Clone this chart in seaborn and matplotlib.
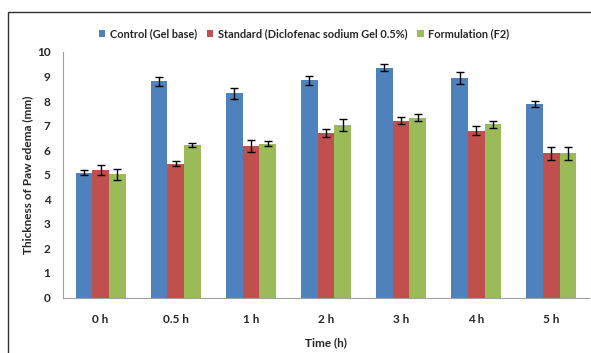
import matplotlib
matplotlib.use("Agg")
import matplotlib.pyplot as plt
import matplotlib.patches as mpatches
import seaborn as sns
import pandas as pd
import numpy as np

times = ["0 h", "0.5 h", "1 h", "2 h", "3 h", "4 h", "5 h"]
groups = ["Control (Gel base)", "Standard (Diclofenac sodium Gel 0.5%)", "Formulation (F2)"]
control = [5.09, 8.80, 8.31, 8.84, 9.36, 8.93, 7.87]
standard = [5.20, 5.45, 6.18, 6.70, 7.20, 6.80, 5.87]
formulation = [5.02, 6.21, 6.27, 7.03, 7.33, 7.05, 5.87]
control_err = [0.10, 0.20, 0.22, 0.20, 0.14, 0.24, 0.12]
standard_err = [0.20, 0.11, 0.24, 0.15, 0.15, 0.18, 0.26]
formulation_err = [0.22, 0.10, 0.10, 0.25, 0.15, 0.13, 0.25]
colors = ["#4F81BD", "#C0504D", "#9BBB59"]

values = [control, standard, formulation]
errors = [control_err, standard_err, formulation_err]
rows = []
for g, vals in zip(groups, values):
    for t, v in zip(times, vals):
        rows.append({"Time": t, "Group": g, "Value": v})
df = pd.DataFrame(rows)

sns.set_style("white")
plt.rcParams["font.family"] = ["Lato", "DejaVu Sans"]
plt.rcParams["font.weight"] = "bold"

fig = plt.figure(figsize=(5.91, 3.53), dpi=100)
W, H = 591, 353
ax = fig.add_axes([63 / W, (H - 297.5) / H, (589 - 63) / W, (297.5 - 52) / H])

sns.barplot(data=df, x="Time", y="Value", hue="Group", order=times, hue_order=groups,
            palette=colors, width=0.667, ax=ax, errorbar=None, saturation=1,
            edgecolor="none", linewidth=0, legend=False)

for cont, errs in zip(ax.containers, errors):
    xs = [p.get_x() + p.get_width() / 2 for p in cont.patches]
    hs = [p.get_height() for p in cont.patches]
    ax.errorbar(xs, hs, yerr=errs, fmt="none", ecolor="black", elinewidth=1,
                capsize=2.8, capthick=1, zorder=5)

ax.set_xlim(-0.5, len(times) - 0.5)
ax.set_ylim(0, 10)
ax.set_yticks(range(0, 11))
ax.set_yticklabels([str(i) for i in range(0, 11)], fontsize=8.5, fontweight="bold")
ax.set_xticks(range(len(times)))
ax.set_xticklabels(times, fontsize=8.5, fontweight="bold")
ax.set_xticks(np.arange(-0.5, len(times), 1.0), minor=True)
ax.tick_params(axis="x", which="major", length=0, pad=12)
ax.tick_params(axis="x", which="minor", length=5, color="#A0A0A0", width=0.8, direction="out")
ax.tick_params(axis="y", which="major", length=4, color="#A0A0A0", width=0.8, direction="out", pad=5)

for s in ["top", "right"]:
    ax.spines[s].set_visible(False)
for s in ["left", "bottom"]:
    ax.spines[s].set_color("#A0A0A0")
    ax.spines[s].set_linewidth(0.8)

ax.set_xlabel("Time (h)", fontsize=8.5, fontweight="bold", labelpad=9)
ax.set_ylabel("Thickness of Paw edema (mm)", fontsize=8.5, fontweight="bold", labelpad=3)

handles = [mpatches.Patch(facecolor=c, edgecolor="none") for c in colors]
fig.legend(handles, groups, loc="center", bbox_to_anchor=(304 / W, 1 - 34 / H), ncol=3,
           frameon=False, handlelength=0.6, handleheight=0.6,
           handletextpad=0.4, columnspacing=0.9, prop={"weight": "bold", "size": 7.9})

# outer frame
fig.patches.append(mpatches.Rectangle((7.5 / W, -0.05), 1.2, 1 - 12 / H + 0.05,
                                      transform=fig.transFigure, fill=False,
                                      edgecolor="#303030", linewidth=1.0))

fig.savefig("out.png", dpi=100)
